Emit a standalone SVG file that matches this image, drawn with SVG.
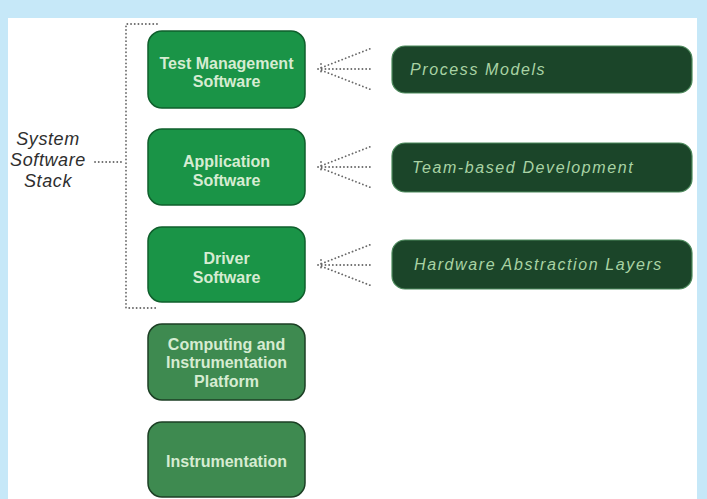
<svg xmlns="http://www.w3.org/2000/svg" width="707" height="499" viewBox="0 0 707 499">
<defs>
<style>
.bg{fill:#c6e8f8}
.panel{fill:#ffffff}
.bright{fill:#1a9447;stroke:#0f5f2c;stroke-width:1.5}
.muted{fill:#3e8a50;stroke:#1c3f24;stroke-width:1.5}
.dark{fill:#1b4529;stroke:#4d8a5c;stroke-width:1.2}
.bt{font-family:"Liberation Sans",Arial,sans-serif;font-weight:bold;font-size:16px;fill:#d6ecd2;text-anchor:middle}
.it{font-family:"Liberation Sans",Arial,sans-serif;font-style:italic;font-size:16px;letter-spacing:1.6px;fill:#a9d3a4}
.lbl{font-family:"Liberation Sans",Arial,sans-serif;font-style:italic;font-size:18px;letter-spacing:0.6px;fill:#2e2e2e;text-anchor:middle}
.dot{fill:none;stroke:#6a6a6a;stroke-width:1.8;stroke-linecap:round;stroke-dasharray:0.1 3.6}
</style>
</defs>
<rect class="bg" x="0" y="0" width="707" height="499"/>
<rect class="panel" x="8" y="18" width="689" height="481"/>

<g id="connectors">
<path class="dot" d="M157 24 H126 V308 H158"/>
<path class="dot" d="M95 162 H122"/>
<g id="fan1">
<path class="dot" d="M318 69 L372 48 M318 69 L372 69 M318 69 L372 90 M321 64 V74"/>
</g>
<g id="fan2">
<path class="dot" d="M318 167 L372 146 M318 167 L372 167 M318 167 L372 188 M321 162 V172"/>
</g>
<g id="fan3">
<path class="dot" d="M318 265 L372 244 M318 265 L372 265 M318 265 L372 286 M321 260 V270"/>
</g>
</g>

<g id="label-stack">
<text class="lbl" x="48" y="145">System</text>
<text class="lbl" x="48" y="166">Software</text>
<text class="lbl" x="48" y="187">Stack</text>
</g>

<g id="test-management">
<rect class="bright" x="148" y="31" width="157" height="77" rx="14"/>
<text class="bt" x="226.5" y="69">Test Management</text>
<text class="bt" x="226.5" y="87">Software</text>
</g>
<g id="application">
<rect class="bright" x="148" y="129" width="157" height="76" rx="14"/>
<text class="bt" x="226.5" y="167">Application</text>
<text class="bt" x="226.5" y="186">Software</text>
</g>
<g id="driver">
<rect class="bright" x="148" y="227" width="157" height="75" rx="14"/>
<text class="bt" x="226.5" y="264">Driver</text>
<text class="bt" x="226.5" y="283">Software</text>
</g>
<g id="computing">
<rect class="muted" x="148" y="324" width="157" height="76" rx="14"/>
<text class="bt" x="226.5" y="350">Computing and</text>
<text class="bt" x="226.5" y="368">Instrumentation</text>
<text class="bt" x="226.5" y="387">Platform</text>
</g>
<g id="instrumentation">
<rect class="muted" x="148" y="422" width="157" height="75" rx="14"/>
<text class="bt" x="226.5" y="467">Instrumentation</text>
</g>

<g id="process-models">
<rect class="dark" x="392" y="46" width="300" height="47" rx="13"/>
<text class="it" x="410" y="75">Process Models</text>
</g>
<g id="team-based">
<rect class="dark" x="392" y="143" width="300" height="49" rx="13"/>
<text class="it" x="412" y="173">Team-based Development</text>
</g>
<g id="hardware-abstraction">
<rect class="dark" x="392" y="240" width="300" height="49" rx="13"/>
<text class="it" x="414" y="270">Hardware Abstraction Layers</text>
</g>
</svg>
